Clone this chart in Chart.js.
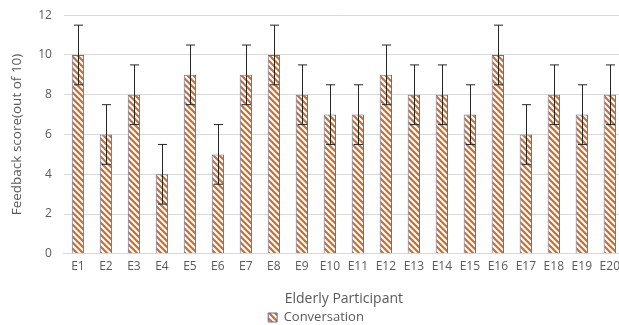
<!DOCTYPE html>
<html>
<head>
<meta charset="utf-8">
<script src="https://cdn.jsdelivr.net/npm/chart.js@4"></script>
<style>
  html, body { margin: 0; padding: 0; background: #fff; overflow: hidden; }
  #wrap { width: 626px; height: 338px; margin-top: -4px; position: relative; }
</style>
</head>
<body>
<div id="wrap"><canvas id="chart"></canvas></div>
<script>
var participants = ['E1','E2','E3','E4','E5','E6','E7','E8','E9','E10','E11','E12','E13','E14','E15','E16','E17','E18','E19','E20'];
var scores = [10, 6, 8, 4, 9, 5, 9, 10, 8, 7, 7, 9, 8, 8, 7, 10, 6, 8, 7, 8];
var errors = [1.5, 1.5, 1.5, 1.5, 1.5, 1.5, 1.5, 1.5, 1.5, 1.5, 1.5, 1.5, 1.5, 1.5, 1.5, 1.5, 1.5, 1.5, 1.5, 1.5];
var yTicks = [0, 2, 4, 6, 8, 10, 12];

// diagonal hatch like the office pattern fill
function makeHatch() {
  var s = 6;
  var c = document.createElement('canvas');
  c.width = s; c.height = s;
  var g = c.getContext('2d');
  g.fillStyle = '#fffaf3';
  g.fillRect(0, 0, s, s);
  g.strokeStyle = '#c46f35';
  g.lineWidth = 2.2;
  g.beginPath();
  g.moveTo(-1, -1); g.lineTo(s + 1, s + 1);
  g.moveTo(-1, s - 1); g.lineTo(1, s + 1);
  g.moveTo(s - 1, -1); g.lineTo(s + 1, 1);
  g.stroke();
  return g.createPattern(c, 'repeat');
}
var hatch = makeHatch();

var errorBars = {
  id: 'errorBars',
  afterDatasetsDraw: function(chart) {
    var ctx = chart.ctx;
    var y = chart.scales.y;
    var meta = chart.getDatasetMeta(0);
    ctx.save();
    ctx.strokeStyle = '#262626';
    ctx.lineWidth = 1;
    meta.data.forEach(function(bar, i) {
      var x = Math.round(bar.x) + 0.5;
      var top = y.getPixelForValue(scores[i] + errors[i]);
      var bot = y.getPixelForValue(scores[i] - errors[i]);
      ctx.beginPath();
      ctx.moveTo(x, top); ctx.lineTo(x, bot);
      ctx.moveTo(x - 4.5, top); ctx.lineTo(x + 4.5, top);
      ctx.moveTo(x - 4.5, bot); ctx.lineTo(x + 4.5, bot);
      ctx.stroke();
    });
    ctx.restore();
  }
};

Chart.defaults.font.family = "'Open Sans', 'Liberation Sans', sans-serif";
Chart.defaults.color = '#595959';

new Chart(document.getElementById('chart'), {
  type: 'bar',
  data: {
    labels: participants,
    datasets: [{
      label: 'Conversation',
      data: scores,
      backgroundColor: hatch,
      borderColor: '#5f6fa3',
      borderWidth: 1,
      barPercentage: 0.44,
      categoryPercentage: 1
    }]
  },
  options: {
    responsive: true,
    maintainAspectRatio: false,
    animation: false,
    layout: { padding: { top: 0, right: 0, left: 6, bottom: 0 } },
    scales: {
      x: {
        grid: { display: false, drawTicks: false },
        border: { color: '#d9d9d9' },
        ticks: { font: { size: 12 }, padding: 6, maxRotation: 0, autoSkip: false },
        title: { display: true, text: 'Elderly Participant', font: { size: 14 }, padding: { top: 10, bottom: 2 } }
      },
      y: {
        min: 0, max: 12,
        afterBuildTicks: function(axis) { axis.ticks = yTicks.map(function(v) { return { value: v }; }); },
        grid: { color: '#d9d9d9', drawTicks: false },
        border: { display: false },
        ticks: { font: { size: 12 }, padding: 12 },
        title: { display: true, text: 'Feedback score(out of 10)', font: { size: 13.5 }, padding: { top: 3, bottom: 1 } }
      }
    },
    plugins: {
      legend: {
        position: 'bottom',
        labels: { boxWidth: 9, boxHeight: 9, font: { size: 13 }, padding: 2 }
      },
      tooltip: { enabled: false }
    }
  },
  plugins: [errorBars]
});
</script>
</body>
</html>
